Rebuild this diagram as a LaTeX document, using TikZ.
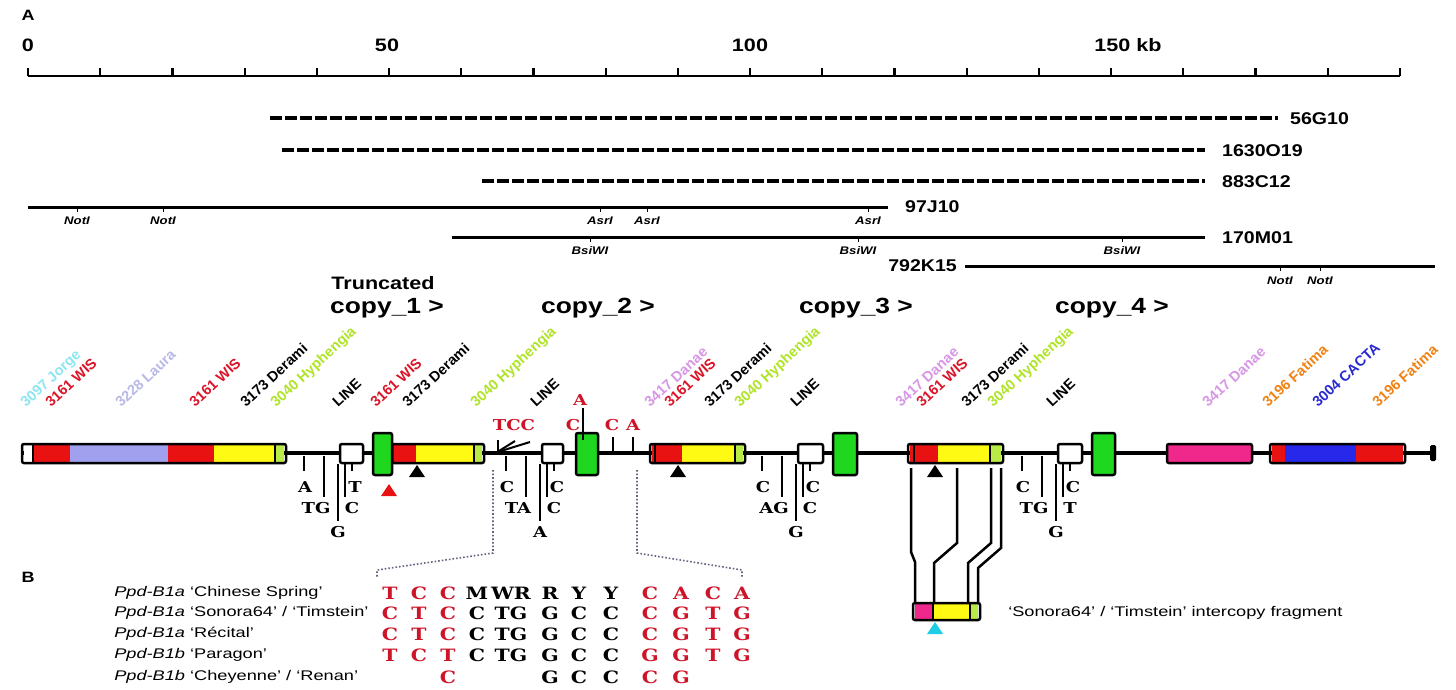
\documentclass[tikz,border=0pt]{standalone}
\usepackage{fontspec}
\setmainfont{Liberation Sans}
\newfontfamily\serifb{DejaVu Serif}
\definecolor{bred}{RGB}{232,18,18}
\definecolor{blav}{RGB}{160,160,238}
\definecolor{byel}{RGB}{255,250,20}
\definecolor{bgrn}{RGB}{30,215,30}
\definecolor{lgrn}{RGB}{185,235,70}
\definecolor{bpink}{RGB}{240,40,140}
\definecolor{bblue}{RGB}{40,40,235}
\definecolor{bcyan}{RGB}{30,205,230}
\definecolor{tcyan}{RGB}{140,230,242}
\definecolor{tred}{RGB}{220,20,40}
\definecolor{tlav}{RGB}{185,185,232}
\definecolor{tyg}{RGB}{175,228,40}
\definecolor{tpink}{RGB}{215,150,230}
\definecolor{torange}{RGB}{240,130,20}
\definecolor{tblue}{RGB}{40,40,210}
\definecolor{sred}{RGB}{205,20,40}
\definecolor{dotc}{RGB}{100,100,130}
\newcommand\trimark[3]{\fill[#3] ({#1-8},{#2+12}) -- (#1,#2) -- ({#1+8},{#2+12}) -- cycle;}
\newcommand\segf[3]{\fill[#3] (#1,444) rectangle (#2,463);}
\newcommand\mutgrp[7]{%
 \draw[mtick] ({#1-36},456) -- ({#1-36},471); \node[mut] (#7a) at ({#1-35},487) {#2};
 \draw[mtick] ({#1-16},456) -- ({#1-16},497); \node[mut] (#7b) at ({#1-24},508) {#3};
 \draw[mtick] ({#1-2},464) -- ({#1-2},521); \node[mut] (#7c) at ({#1-2},532) {#4};
 \draw[mtick] ({#1+5},464) -- ({#1+5},497); \node[mut] (#7d) at ({#1+12},508) {#5};
 \draw[mtick] ({#1+12},464) -- ({#1+12},471); \node[mut] (#7e) at ({#1+15},487) {#6};}
\begin{document}
\begin{tikzpicture}[x=1pt,y=-1pt,
 lab/.style={inner sep=0pt, xscale=1.2, font=\bfseries\fontsize{18}{20}\selectfont},
 plab/.style={inner sep=0pt, xscale=1.2, font=\bfseries\fontsize{15}{17}\selectfont},
 clonelab/.style={inner sep=0pt, xscale=1.15, anchor=west, font=\bfseries\fontsize{17}{19}\selectfont},
 site/.style={inner sep=0pt, xscale=1.2, font=\bfseries\itshape\fontsize{11}{12}\selectfont},
 te/.style={inner sep=0pt, rotate=43, anchor=base west, font=\bfseries\fontsize{14.5}{15}\selectfont},
 mut/.style={inner sep=0pt, xscale=1.2, font=\serifb\bfseries\fontsize{15}{16}\selectfont},
 seq/.style={inner sep=0pt, xscale=1.2, font=\serifb\bfseries\fontsize{17}{18}\selectfont},
 rowlab/.style={inner sep=0pt, xscale=1.3, anchor=west, font=\fontsize{14}{15}\selectfont},
 copylab/.style={inner sep=0pt, xscale=1.2, font=\bfseries\fontsize{22}{24}\selectfont},
 solidclone/.style={line width=3pt},
 dashclone/.style={line width=3.5pt, dash pattern=on 12pt off 3pt},
 chrom/.style={line width=3.5pt},
 bx/.style={draw=black, line width=2.5pt, rounded corners=2pt},
 mtick/.style={line width=2pt},
 dotl/.style={line width=1.6pt, dotted, draw=dotc},
 frag/.style={line width=2.5pt}]
\fill[white] (0,0) rectangle (1456,689);
\useasboundingbox (0,0) rectangle (1456,689);
% ---------- panel A : scale ----------
\node[plab] (pA) at (28,15) {A};
\draw[line width=2.8pt] (28,76) -- (1400,76);
\foreach \i in {0,...,19} \draw[line width=2.2pt] ({28+72.2*\i},76) -- ({28+72.2*\i},68);
\node[lab] (s0) at (28,45) {0};
\node[lab] (s50) at (387,45) {50};
\node[lab] (s100) at (750,45) {100};
\node[lab,anchor=west] (s150) at (1094,45) {150 kb};
% ---------- clones ----------
\draw[dashclone] (270,118) -- (1278,118); \node[clonelab] (c56) at (1290,119) {56G10};
\draw[dashclone] (282,150) -- (1205,150); \node[clonelab] (c163) at (1222,151) {1630O19};
\draw[dashclone] (482,181) -- (1205,181); \node[clonelab] (c883) at (1222,182) {883C12};
\draw[solidclone] (28,207) -- (888,207); \node[clonelab] (c97) at (905,207) {97J10};
\draw[solidclone] (452,237) -- (1205,237); \node[clonelab] (c170) at (1222,238) {170M01};
\draw[solidclone] (965,266) -- (1435,266); \node[clonelab,anchor=east] (c792) at (957,266) {792K15};
\foreach \x/\t [count=\k] in {77/NotI,163/NotI,600/AsrI,647/AsrI,868/AsrI}{
  \draw[line width=1pt] (\x,207) -- (\x,212); \node[site] (sa\k) at (\x,221) {\t};}
\foreach \x/\t [count=\k] in {590/BsiWI,858/BsiWI,1122/BsiWI}{
  \draw[line width=1pt] (\x,237) -- (\x,242); \node[site] (sb\k) at (\x,251) {\t};}
\foreach \x/\t [count=\k] in {1280/NotI,1320/NotI}{
  \draw[line width=1pt] (\x,266) -- (\x,271); \node[site] (sc\k) at (\x,281) {\t};}
% ---------- copies ----------
\node[inner sep=0pt, xscale=1.2, font=\bfseries\fontsize{18}{20}\selectfont] (trunc) at (383,283) {Truncated};
\node[copylab] (cp1) at (387,308) {copy\_1 >};
\node[copylab] (cp2) at (598,308) {copy\_2 >};
\node[copylab] (cp3) at (856,308) {copy\_3 >};
\node[copylab] (cp4) at (1112,308) {copy\_4 >};
% ---------- TE labels ----------
\foreach \x/\c/\t [count=\k] in {
 23/tcyan/{3097 Jorge}, 48/tred/{3161 WIS}, 118/tlav/{3228 Laura}, 192/tred/{3161 WIS},
 243/black/{3173 Derami}, 273/tyg/{3040 Hyphengia}, 335/black/{LINE}, 373/tred/{3161 WIS},
 405/black/{3173 Derami}, 473/tyg/{3040 Hyphengia}, 533/black/{LINE}, 647/tpink/{3417 Danae},
 667/tred/{3161 WIS}, 707/black/{3173 Derami}, 737/tyg/{3040 Hyphengia}, 793/black/{LINE},
 898/tpink/{3417 Danae}, 919/tred/{3161 WIS}, 964/black/{3173 Derami}, 990/tyg/{3040 Hyphengia},
 1049/black/{LINE}, 1205/tpink/{3417 Danae}, 1265/torange/{3196 Fatima}, 1315/tblue/{3004 CACTA},
 1375/torange/{3196 Fatima}}
 \node[te,text=\c] (te\k) at ({\x+3},408) {\t};
% ---------- chromosome ----------
\draw[chrom] (22,453) -- (1432,453);
\fill[rounded corners=1.5pt] (1430,445) rectangle (1436,461);
% box 1
\segf{24}{33}{white}\segf{33}{70}{bred}\segf{70}{168}{blav}\segf{168}{214}{bred}\segf{214}{275}{byel}\segf{275}{284}{lgrn}
\draw[line width=1.2pt] (33,444) -- (33,463) (275,444) -- (275,463);
\draw[bx] (22,444) rectangle (286,463);
% copy 1
\segf{393}{416}{bred}\segf{416}{474}{byel}\segf{474}{482}{lgrn}
\draw[line width=1.2pt] (474,444) -- (474,463);
\draw[bx] (392,444) rectangle (484,463);
\draw[bx,fill=white] (340,444) rectangle (363,463);
\draw[bx,fill=bgrn] (373,433) rectangle (392,475);
% copy 2
\segf{652}{682}{bred}\segf{682}{735}{byel}\segf{735}{743}{lgrn}
\draw[line width=1.2pt] (735,444) -- (735,463) (655,444) -- (655,463);
\draw[bx] (650,444) rectangle (745,463);
\draw[bx,fill=white] (542,444) rectangle (563,463);
\draw[bx,fill=bgrn] (576,433) rectangle (598,475);
% copy 3
\segf{910}{938}{bred}\segf{938}{990}{byel}\segf{990}{1001}{lgrn}
\draw[line width=1.2pt] (990,444) -- (990,463) (914,444) -- (914,463);
\draw[bx] (908,444) rectangle (1003,463);
\draw[bx,fill=white] (798,444) rectangle (823,463);
\draw[bx,fill=bgrn] (833,433) rectangle (857,475);
% copy 4
\draw[bx,fill=white] (1058,444) rectangle (1082,463);
\draw[bx,fill=bgrn] (1092,433) rectangle (1115,475);
% right boxes
\draw[bx,fill=bpink] (1167,444) rectangle (1252,463);
\segf{1272}{1285}{bred}\segf{1285}{1356}{bblue}\segf{1356}{1403}{bred}
\draw[bx] (1270,444) rectangle (1405,463);
% triangles
\trimark{417}{465}{black}
\trimark{389}{484}{bred}
\trimark{678}{465}{black}
\trimark{935}{465}{black}
% mutations below
\mutgrp{340}{A}{TG}{G}{C}{T}{ma}
\mutgrp{542}{C}{TA}{A}{C}{C}{mb}
\mutgrp{798}{C}{AG}{G}{C}{C}{mc}
\mutgrp{1058}{C}{TG}{G}{T}{C}{md}
% mutations above copy 2
\draw[mtick] (498,440) -- (498,453);
\draw[mtick] (499,451) -- (515,441);
\draw[mtick] (501,451) -- (530,442);
\node[mut,text=sred] (tcc) at (514,425) {TCC};
\node[mut,text=sred] (ua) at (580,400) {A};
\draw[mtick] (583,408) -- (583,440);
\node[mut,text=sred] (uc1) at (573,425) {C};
\node[mut,text=sred] (uc2) at (612,425) {C};
\draw[mtick] (613,437) -- (613,453);
\node[mut,text=sred] (ua2) at (633,425) {A};
\draw[mtick] (633,437) -- (633,453);
% dotted brackets
\coordinate (bl1) at (493,470); \coordinate (bl2) at (377,577);
\coordinate (br1) at (637,470); \coordinate (br2) at (742,577);
\draw[dotl] (bl1) -- (493,553) -- (377,570) -- (bl2);
\draw[dotl] (br1) -- (637,553) -- (742,570) -- (br2);
% intercopy fragment
\draw[frag] (911,468) -- (911,552) -- (915,562) -- (915,602);
\draw[frag] (957,468) -- (957,543) -- (934,563) -- (934,602);
\draw[frag] (991,468) -- (991,543) -- (968,563) -- (968,602);
\draw[frag] (1001,468) -- (1001,548) -- (978,568) -- (978,602);
\fill[bpink] (915,603) rectangle (933,620);
\fill[byel] (933,603) rectangle (970,620);
\fill[lgrn] (970,603) rectangle (978,620);
\draw[line width=1.2pt] (933,603) -- (933,620) (970,603) -- (970,620);
\draw[bx] (913,603) rectangle (980,620);
\trimark{935}{622}{bcyan}
\node[rowlab] (fraglab) at (1008,613) {‘Sonora64’ / ‘Timstein’ intercopy fragment};
% ---------- panel B ----------
\node[plab] (pB) at (28,577) {B};
\node[rowlab] (n1) at (114,593) {\textit{Ppd-B1a} ‘Chinese Spring’};
\node[rowlab] (n2) at (114,613) {\textit{Ppd-B1a} ‘Sonora64’ / ‘Timstein’};
\node[rowlab] (n3) at (114,634) {\textit{Ppd-B1a} ‘Récital’};
\node[rowlab] (n4) at (114,655) {\textit{Ppd-B1b} ‘Paragon’};
\node[rowlab] (n5) at (114,677) {\textit{Ppd-B1b} ‘Cheyenne’ / ‘Renan’};
\foreach \x/\l/\c [count=\k] in {390/T/sred,419/C/sred,448/C/sred,477/M/black,511/WR/black,550/R/black,579/Y/black,611/Y/black,650/C/sred,681/A/sred,713/C/sred,742/A/sred}
 \node[seq,text=\c] (ra\k) at (\x,593) {\l};
\foreach \x/\l/\c [count=\k] in {390/C/sred,419/T/sred,448/C/sred,477/C/black,511/TG/black,550/G/black,579/C/black,611/C/black,650/C/sred,681/G/sred,713/T/sred,742/G/sred}
 \node[seq,text=\c] (rb\k) at (\x,613) {\l};
\foreach \x/\l/\c [count=\k] in {390/C/sred,419/T/sred,448/C/sred,477/C/black,511/TG/black,550/G/black,579/C/black,611/C/black,650/C/sred,681/G/sred,713/T/sred,742/G/sred}
 \node[seq,text=\c] (rc\k) at (\x,634) {\l};
\foreach \x/\l/\c [count=\k] in {390/T/sred,419/C/sred,448/T/sred,477/C/black,511/TG/black,550/G/black,579/C/black,611/C/black,650/G/sred,681/G/sred,713/T/sred,742/G/sred}
 \node[seq,text=\c] (rd\k) at (\x,655) {\l};
\foreach \x/\l/\c [count=\k] in {448/C/sred,550/G/black,579/C/black,611/C/black,650/C/sred,681/G/sred}
 \node[seq,text=\c] (re\k) at (\x,677) {\l};
\end{tikzpicture}
\end{document}
